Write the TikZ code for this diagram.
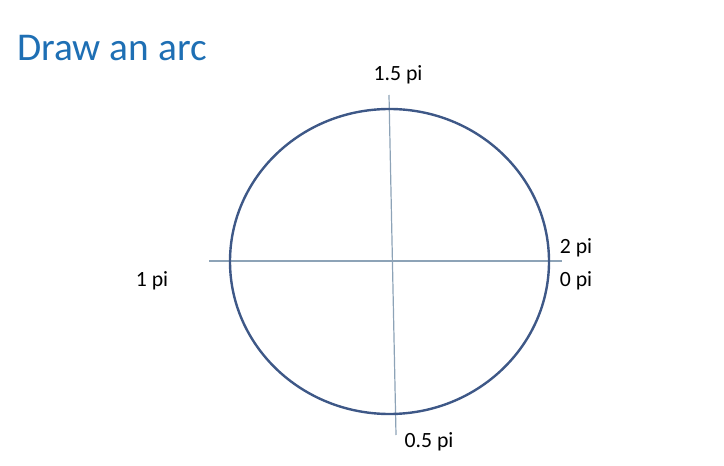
\documentclass[tikz,border=0pt]{standalone}
\usepackage{fontspec}
\setmainfont{Carlito}
\usetikzlibrary{positioning}
\definecolor{titleblue}{HTML}{1E6FB4}
\definecolor{ringblue}{HTML}{3E5887}
\definecolor{axisgrey}{HTML}{8DA3B7}
\tikzset{
  ring/.style={draw=ringblue,line width=1.8pt},
  axis/.style={draw=axisgrey,line width=0.9pt},
  anglelbl/.style={font=\fontsize{16.3}{19}\selectfont,text=black,inner sep=0pt}
}
\begin{document}
\begin{tikzpicture}[x=0.75pt,y=-0.75pt]
    \useasboundingbox (0,0) rectangle (724,466);
    % title
    \node[anchor=west,text=titleblue,font=\fontsize{29.5}{34}\selectfont,inner sep=0pt] (title) at (17,48) {Draw an arc};
    % axes
    \coordinate (west) at (209,261);
    \coordinate (east) at (562,261);
    \coordinate (north) at (389,95);
    \coordinate (south) at (396,435);
    \draw[axis] (west) -- (east);
    \draw[axis] (north) -- (south);
    % the circle
    \coordinate (c) at (389.5,261.5);
    \draw[ring] (c) ellipse [x radius=159.5, y radius=152.5];
    % angle labels
    \node[anglelbl] (pi15) at (398,75) {1.5 pi};
    \node[anglelbl] (pi2) at (576,248) {2 pi};
    \node[anglelbl] (pi0) at (576,281) {0 pi};
    \node[anglelbl] (pi1) at (152,281) {1 pi};
    \node[anglelbl] (pi05) at (429,442) {0.5 pi};
\end{tikzpicture}
\end{document}
